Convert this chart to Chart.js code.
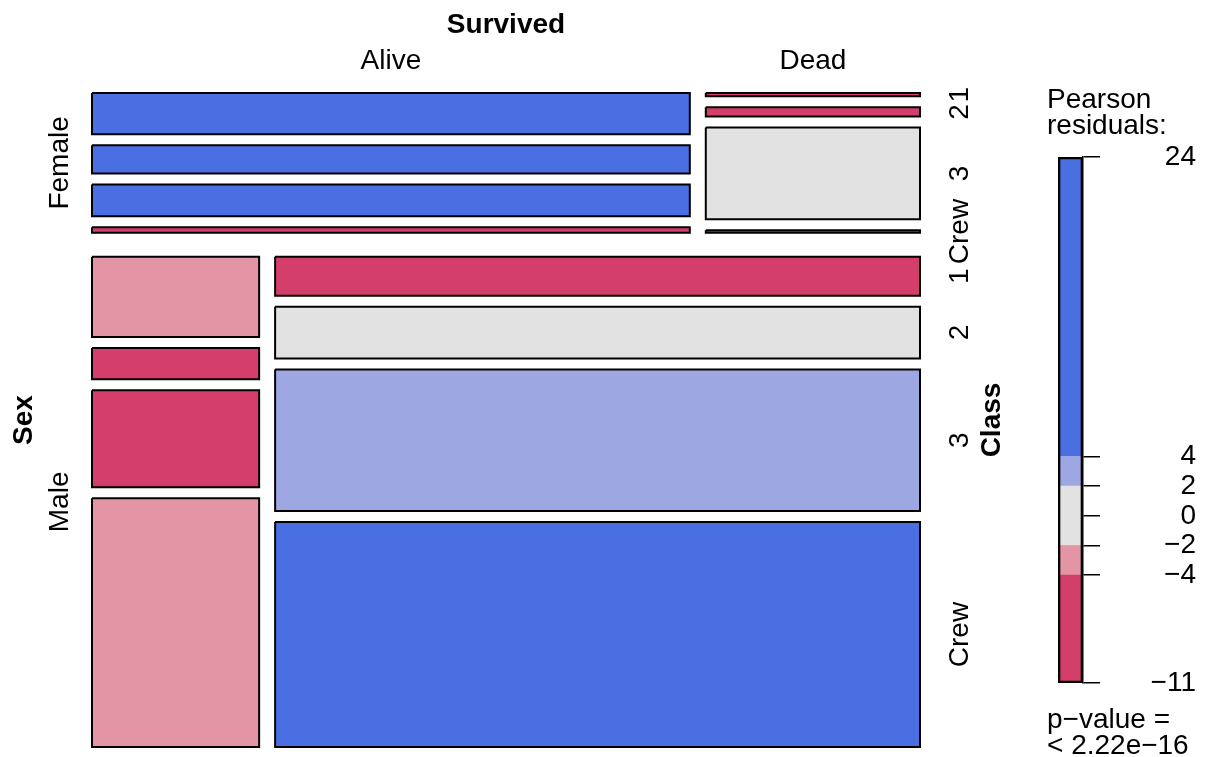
<!DOCTYPE html>
<html>
<head>
<meta charset="utf-8">
<script src="https://cdn.jsdelivr.net/npm/chart.js@4/dist/chart.umd.min.js"></script>
<style>
  html, body { margin: 0; padding: 0; background: #fff; }
  #wrap { position: relative; width: 1205px; height: 757px; overflow: hidden; background: #fff; }
  #mosaic { position: absolute; left: 0; top: 0; }
  #legend { position: absolute; left: 1040px; top: 0; }
</style>
</head>
<body>
<div id="wrap">
  <canvas id="mosaic" width="1205" height="757"></canvas>
  <canvas id="legend" width="165" height="757"></canvas>
</div>
<script>
// ---- data: Titanic counts by Sex x Survived x Class ----
const sexLevels = ['Female', 'Male'];
const survivedLevels = ['Alive', 'Dead'];
const classLevels = ['1', '2', '3', 'Crew'];
const femaleAlive = [139, 95, 107, 19];
const femaleDead = [4, 11, 111, 3];
const maleAlive = [62, 24, 75, 192];
const maleDead = [116, 154, 422, 670];
// shading cut points for Pearson residuals
const residualBreaks = [-4, -2, 2, 4];
const pValueLines = ['p\u2212value =', '< 2.22e\u221216'];

// ---- style ----
const FONT = '"Liberation Sans", Arial, Helvetica, sans-serif';
const FS = 28;
const SHADES = ['#D33F6A', '#E495A5', '#E2E2E2', '#9DA8E2', '#4A6FE3'];
const GAP_SEX = 0.0367;    // space between Sex tiles (fraction of height)
const GAP_SURV = 0.0193;   // space between Survived tiles (fraction of width)
const GAP_CLASS = 0.0168;  // space between Class tiles (fraction of height)

Chart.defaults.font.family = FONT;
Chart.defaults.color = '#000';

// ---- margins and residuals (mutual independence) ----
const counts = [[femaleAlive, femaleDead], [maleAlive, maleDead]];
const sum = a => a.reduce((p, q) => p + q, 0);
const N = sum(counts.flat(2));
const sexTot = counts.map(s => sum(s.flat()));
const survTot = survivedLevels.map((_, v) => sum(counts.map(s => sum(s[v]))));
const classTot = classLevels.map((_, c) => sum(counts.flat().map(cell => cell[c])));

function shadeFor(r) {
  if (r > residualBreaks[3]) return SHADES[4];
  if (r > residualBreaks[2]) return SHADES[3];
  if (r >= residualBreaks[1]) return SHADES[2];
  if (r >= residualBreaks[0]) return SHADES[1];
  return SHADES[0];
}

// ---- tile geometry in unit coordinates ----
const tiles = [];
const residuals = [];
{
  let y = 0;
  const availH = 1 - GAP_SEX * (sexLevels.length - 1);
  sexLevels.forEach((sx, s) => {
    const hS = availH * sexTot[s] / N;
    let x = 0;
    const availW = 1 - GAP_SURV * (survivedLevels.length - 1);
    survivedLevels.forEach((sv, v) => {
      const cell = counts[s][v];
      const cellTot = sum(cell);
      const w = availW * cellTot / sexTot[s];
      let yy = y;
      const availC = hS - GAP_CLASS * (classLevels.length - 1);
      classLevels.forEach((cl, c) => {
        const h = availC * cell[c] / cellTot;
        const expct = sexTot[s] * survTot[v] * classTot[c] / (N * N);
        const r = (cell[c] - expct) / Math.sqrt(expct);
        residuals.push(r);
        tiles.push({ s, v, c, x0: x, x1: x + w, y0: yy, y1: yy + h, color: shadeFor(r) });
        yy += h + GAP_CLASS;
      });
      x += w + GAP_SURV;
    });
    y += hS + GAP_SEX;
  });
}
const resMin = Math.min(...residuals);
const resMax = Math.max(...residuals);

const tileDatasets = tiles.map(t => ({
  data: [
    { x: t.x0, y: t.y0 }, { x: t.x1, y: t.y0 }, { x: t.x1, y: t.y1 },
    { x: t.x0, y: t.y1 }, { x: t.x0, y: t.y0 }
  ],
  fill: 'shape',
  backgroundColor: t.color,
  borderColor: '#000',
  borderWidth: 2,
  borderJoinStyle: 'miter',
  pointRadius: 0,
  pointHoverRadius: 0,
  tension: 0,
  clip: false
}));

function drawLabel(ctx, text, cx, cy, rotated, bold) {
  ctx.save();
  ctx.font = (bold ? 'bold ' : '') + FS + 'px ' + FONT;
  ctx.fillStyle = '#000';
  ctx.textAlign = 'center';
  ctx.textBaseline = 'alphabetic';
  const capHalf = 0.358 * FS;
  ctx.translate(cx, cy);
  if (rotated) ctx.rotate(-Math.PI / 2);
  ctx.fillText(text, 0, capHalf);
  ctx.restore();
}

const mosaicLabels = {
  id: 'mosaicLabels',
  afterDraw(chart) {
    const { ctx, chartArea: a, scales: { x, y } } = chart;
    const midX = (a.left + a.right) / 2;
    const midY = (a.top + a.bottom) / 2;
    drawLabel(ctx, 'Survived', midX, a.top - 70, false, true);
    drawLabel(ctx, 'Sex', a.left - 70, midY, true, true);
    drawLabel(ctx, 'Class', a.right + 70, midY, true, true);
    // column labels along the top row
    survivedLevels.forEach((lab, v) => {
      const t = tiles.find(k => k.s === 0 && k.v === v && k.c === 0);
      drawLabel(ctx, lab, (x.getPixelForValue(t.x0) + x.getPixelForValue(t.x1)) / 2, a.top - 34, false, false);
    });
    // row labels along the left column
    sexLevels.forEach((lab, s) => {
      const cells = tiles.filter(k => k.s === s && k.v === 0);
      const top = y.getPixelForValue(cells[0].y0);
      const bot = y.getPixelForValue(cells[cells.length - 1].y1);
      drawLabel(ctx, lab, a.left - 34, (top + bot) / 2, true, false);
    });
    // class labels along the right column
    const lastV = survivedLevels.length - 1;
    tiles.filter(k => k.v === lastV).forEach(t => {
      const cy = (y.getPixelForValue(t.y0) + y.getPixelForValue(t.y1)) / 2;
      drawLabel(ctx, classLevels[t.c], a.right + 38, cy, true, false);
    });
  }
};

new Chart(document.getElementById('mosaic'), {
  type: 'line',
  data: { datasets: tileDatasets },
  options: {
    responsive: false,
    animation: false,
    events: [],
    layout: { padding: { left: 92, right: 285, top: 93, bottom: 10 } },
    plugins: { legend: { display: false }, tooltip: { enabled: false } },
    scales: {
      x: { type: 'linear', min: 0, max: 1, display: false },
      y: { type: 'linear', min: 0, max: 1, reverse: true, display: false }
    }
  },
  plugins: [mosaicLabels]
});

// ---- residual colour key ----
const bands = [
  [resMin, residualBreaks[0], SHADES[0]],
  [residualBreaks[0], residualBreaks[1], SHADES[1]],
  [residualBreaks[1], residualBreaks[2], SHADES[2]],
  [residualBreaks[2], residualBreaks[3], SHADES[3]],
  [residualBreaks[3], resMax, SHADES[4]]
];
const keyTicks = [resMax, 4, 2, 0, -2, -4, resMin];
const KEY_AXIS_WIDTH = 113;

const keyText = {
  id: 'keyText',
  afterDraw(chart) {
    const ctx = chart.ctx;
    ctx.save();
    ctx.font = FS + 'px ' + FONT;
    ctx.fillStyle = '#000';
    ctx.textAlign = 'left';
    ctx.textBaseline = 'alphabetic';
    ctx.fillText('Pearson', 7, 108);
    ctx.fillText('residuals:', 7, 134);
    ctx.fillText(pValueLines[0], 7, 728);
    ctx.fillText(pValueLines[1], 7, 754);
    ctx.restore();
  }
};

// outline first so it is painted above the colour bands
const keyDatasets = [{
  data: [[resMin, resMax]],
  backgroundColor: 'rgba(0,0,0,0)',
  borderColor: '#000',
  borderWidth: 2,
  borderSkipped: false,
  grouped: false,
  barPercentage: 1,
  categoryPercentage: 1
}].concat(bands.map(b => ({
  data: [[b[0], b[1]]],
  backgroundColor: b[2],
  borderWidth: 0,
  grouped: false,
  barPercentage: 1,
  categoryPercentage: 1
})));

new Chart(document.getElementById('legend'), {
  type: 'bar',
  data: { labels: ['key'], datasets: keyDatasets },
  options: {
    responsive: false,
    animation: false,
    events: [],
    layout: { padding: { left: 18, right: 9, top: 157, bottom: 74 } },
    plugins: { legend: { display: false }, tooltip: { enabled: false } },
    scales: {
      x: { display: false },
      y: {
        position: 'right',
        min: resMin,
        max: resMax,
        afterBuildTicks: s => { s.ticks = keyTicks.map(v => ({ value: v })); },
        afterFit: s => { s.width = KEY_AXIS_WIDTH; },
        ticks: {
          autoSkip: false,
          padding: 4,
          crossAlign: 'far',
          color: '#000',
          font: { family: FONT, size: FS },
          callback: v => String(Math.round(v)).replace('-', '\u2212')
        },
        grid: { drawOnChartArea: false, drawTicks: true, tickLength: 17, color: '#000', lineWidth: 1.5 },
        border: { display: true, color: '#000', width: 1.5 }
      }
    }
  },
  plugins: [keyText]
});
</script>
</body>
</html>
